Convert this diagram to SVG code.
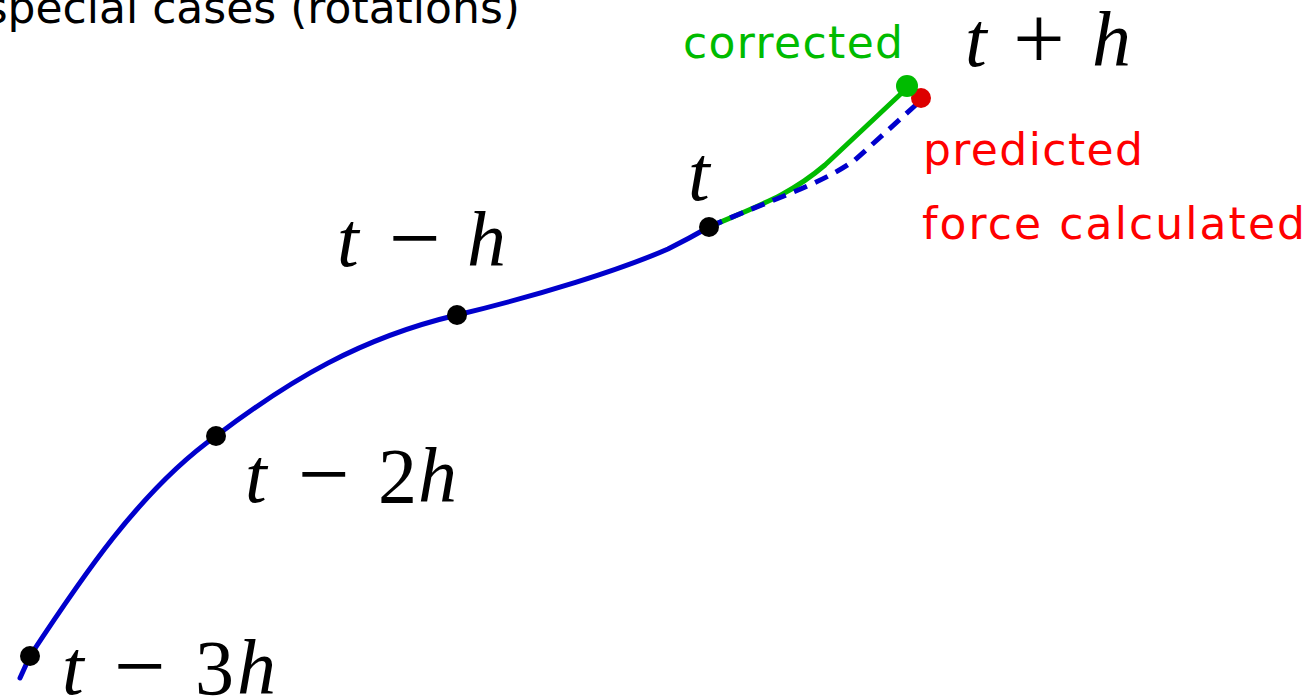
<svg xmlns="http://www.w3.org/2000/svg" width="1310" height="700" viewBox="0 0 1310 700">
<style>
.m{font-family:"Liberation Serif","DejaVu Serif",serif;font-size:78px;fill:#000}
.i{font-style:italic}
.op{font-size:92px}
.s{font-family:"DejaVu Sans",sans-serif;font-size:44px}
.dot{fill:#000}
</style>
<rect width="1310" height="700" fill="#fff"/>
<text class="s" x="520" y="23" text-anchor="end" fill="#000">special cases (rotations)</text>
<g id="connectors" fill="none" stroke-linecap="round">
<path d="M20,678 L30,656 C80,580 140,490 216,436 C290,380 360,338 457,315 C540,295 620,270 668,249 Q690,238 709,227" stroke="#0000cc" stroke-width="5"/>
<path d="M709,227 C760,205 790,195 825,165 L907,88" stroke="#00bb00" stroke-width="5"/>
<path d="M709,227 C770,200 820,185 855,160 L918,103" stroke="#0000cc" stroke-width="5" stroke-dasharray="14,9" stroke-linecap="butt"/>
</g>
<g id="n-t3h"><circle class="dot" cx="30" cy="656" r="10"/><text class="m" y="694"><tspan class="i" x="62">t</tspan><tspan class="op" x="114" dy="3">−</tspan><tspan x="195" dy="-3">3</tspan><tspan class="i" x="237">h</tspan></text></g>
<g id="n-t2h"><circle class="dot" cx="216" cy="436" r="10"/><text class="m" y="502"><tspan class="i" x="245">t</tspan><tspan class="op" x="298" dy="3">−</tspan><tspan x="378" dy="-3">2</tspan><tspan class="i" x="418">h</tspan></text></g>
<g id="n-th"><circle class="dot" cx="457" cy="315" r="10"/><text class="m" y="266"><tspan class="i" x="337">t</tspan><tspan class="op" x="389" dy="3">−</tspan><tspan class="i" x="467" dy="-3">h</tspan></text></g>
<g id="n-t"><circle class="dot" cx="709" cy="227" r="10"/><text class="m i" x="688" y="200">t</text></g>
<g id="n-predicted"><circle cx="921" cy="98" r="10" fill="#dd0000"/>
<text class="s" x="923" y="165" fill="#ff0000" textLength="220">predicted</text>
<text class="s" x="922" y="239" fill="#ff0000" textLength="383">force calculated</text></g>
<g id="n-corrected"><circle cx="907" cy="86" r="11" fill="#00bb00"/>
<text class="s" x="683" y="58" fill="#00bb00" textLength="220">corrected</text>
<text class="m" y="66"><tspan class="i" x="965">t</tspan><tspan class="op" x="1013" dy="3">+</tspan><tspan class="i" x="1092" dy="-3">h</tspan></text></g>
</svg>
